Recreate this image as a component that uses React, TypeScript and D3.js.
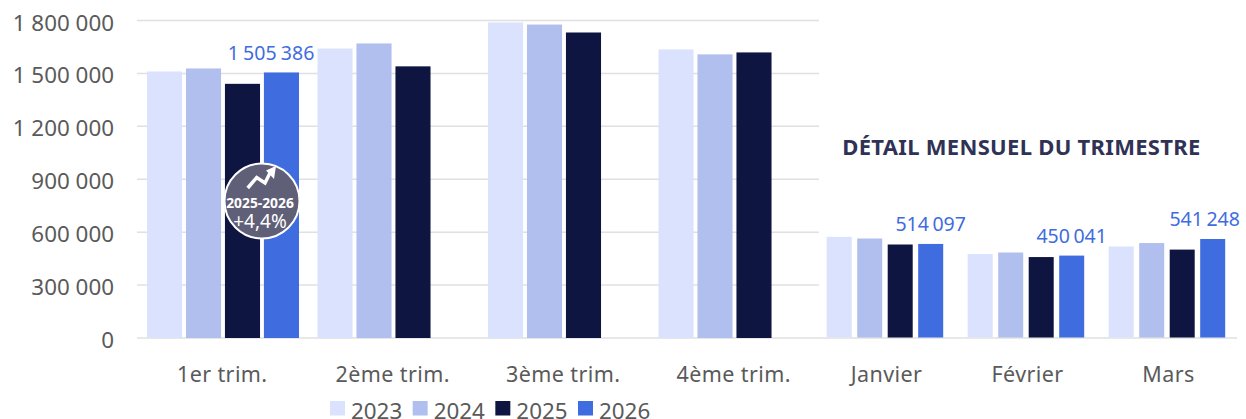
import * as d3 from 'd3'

const YEARS = ['2023', '2024', '2025', '2026']
const QUARTERS = ['1er trim.', '2ème trim.', '3ème trim.', '4ème trim.']
const MONTHS = ['Janvier', 'Février', 'Mars']
const Y_TICKS = [0, 300000, 600000, 900000, 1200000, 1500000, 1800000]

// one array per year, null where the quarter is not published yet
const quarter2023 = [1511000, 1641000, 1789000, 1636000]
const quarter2024 = [1528000, 1670000, 1777000, 1608000]
const quarter2025 = [1441000, 1540000, 1732000, 1619000]
const quarter2026 = [1505386, null, null, null]

const month2023 = [553000, 459000, 500000]
const month2024 = [544000, 467000, 519000]
const month2025 = [511000, 442000, 483000]
const month2026 = [514097, 450041, 541248]

const COLORS = ['#dbe2fd', '#b0bfee', '#0d1540', '#3f6cdf']
const FONT = '"Noto Sans", sans-serif'
const GREY = '#5a5a5a'
const BLUE = '#3f6cdf'

const W = 1246
const H = 419

const fmt = (v: number) => d3.format(',')(v).replace(/,/g, ' ')

const y = d3.scaleLinear().domain([0, 1800000]).range([338, 20.5])
// the monthly panel is drawn a touch taller than the quarterly one
const yMonth = d3.scaleLinear().domain([0, 541248]).range([337.5, 239])

const xQuarter = d3.scaleBand<string>().domain(QUARTERS).range([137, 819])
const xMonth = d3.scaleBand<string>().domain(MONTHS).range([816, 1239])
const xYearQ = d3.scaleBand<string>().domain(YEARS).range([10, 162]).paddingInner(0.1)
const xYearM = d3.scaleBand<string>().domain(YEARS).range([10.7, 127.2]).paddingInner(0.18)
const xLegend = d3.scalePoint<string>().domain(YEARS).range([330, 578])

const quarterSeries = [quarter2023, quarter2024, quarter2025, quarter2026]
const monthSeries = [month2023, month2024, month2025, month2026]

export default function App() {
  const badgeX = 262
  const badgeY = 201
  const q1Top = y(quarter2026[0] as number)

  return (
    <svg
      width={W}
      height={H}
      viewBox={`0 0 ${W} ${H}`}
      style={{ position: 'absolute', left: 0, top: 0, background: '#fff', fontFamily: FONT }}
    >
      {/* grid */}
      {Y_TICKS.map(t => (
        <g key={t}>
          <line
            x1={137}
            x2={t === 0 ? 1237 : 819}
            y1={y(t)}
            y2={y(t)}
            stroke="#e0e0e0"
            strokeWidth={1.5}
          />
          <text x={114} y={y(t) + 10} textAnchor="end" fontSize={22.4} fill={GREY}>
            {fmt(t)}
          </text>
        </g>
      ))}

      {/* quarterly bars */}
      {QUARTERS.map((q, i) => (
        <g key={q} transform={`translate(${xQuarter(q)},0)`}>
          {YEARS.map((yr, s) => {
            const v = quarterSeries[s][i]
            if (v == null) return null
            return (
              <rect
                key={yr}
                x={xYearQ(yr)}
                y={y(v)}
                width={xYearQ.bandwidth()}
                height={y(0) - y(v)}
                fill={COLORS[s]}
              />
            )
          })}
          <text
            x={xQuarter.bandwidth() / 2}
            y={382}
            textAnchor="middle"
            fontSize={21.5}
            letterSpacing={0.4}
            fill={GREY}
          >
            {q}
          </text>
        </g>
      ))}
      <text
        x={271}
        y={q1Top - 12}
        textAnchor="middle"
        fontSize={19.5}
        wordSpacing={-0.8}
        fill={BLUE}
      >
        {fmt(quarter2026[0] as number)}
      </text>

      {/* monthly bars */}
      {MONTHS.map((m, i) => (
        <g key={m} transform={`translate(${xMonth(m)},0)`}>
          {YEARS.map((yr, s) => (
            <rect
              key={yr}
              x={xYearM(yr)}
              y={yMonth(monthSeries[s][i])}
              width={xYearM.bandwidth()}
              height={yMonth(0) - yMonth(monthSeries[s][i])}
              fill={COLORS[s]}
            />
          ))}
          <text
            x={xMonth.bandwidth() / 2}
            y={382}
            textAnchor="middle"
            fontSize={21.5}
            letterSpacing={0.4}
            fill={GREY}
          >
            {m}
          </text>
          <text
            x={(xYearM('2026') as number) + xYearM.bandwidth() / 2 - (i === 2 ? 8 : 0)}
            y={yMonth(month2026[i]) - 13}
            textAnchor="middle"
            fontSize={19.5}
            wordSpacing={-1.5}
            fill={BLUE}
          >
            {fmt(month2026[i])}
          </text>
        </g>
      ))}

      <text
        x={1021.5}
        y={155}
        textAnchor="middle"
        fontSize={22}
        fontWeight={700}
        letterSpacing={0.3}
        fill="#2f3254"
      >
        DÉTAIL MENSUEL DU TRIMESTRE
      </text>

      {/* badge */}
      <g transform={`translate(${badgeX},${badgeY})`}>
        <circle r={37.5} fill="#5f5f78" stroke="#fff" strokeWidth={2} />
        <path
          d="M-14.3,-13 L-5.3,-23.5 L3,-18 L8.7,-29.5"
          fill="none"
          stroke="#fff"
          strokeWidth={3.5}
        />
        <path d="M4,-30.5 L14,-35 L12,-22 Z" fill="#fff" />
        <text x={-2} y={6.5} textAnchor="middle" fontSize={13.8} fontWeight={700} fill="#fff">
          2025-2026
        </text>
        <text x={-2} y={27} textAnchor="middle" fontSize={19} fill="#fff">
          +4,4%
        </text>
      </g>

      {/* legend */}
      {YEARS.map((yr, s) => (
        <g key={yr} transform={`translate(${xLegend(yr)},0)`}>
          <rect x={0} y={401} width={15} height={14.5} fill={COLORS[s]} />
          <text x={21} y={418.5} fontSize={22.4} fill={GREY}>
            {yr}
          </text>
        </g>
      ))}
    </svg>
  )
}
